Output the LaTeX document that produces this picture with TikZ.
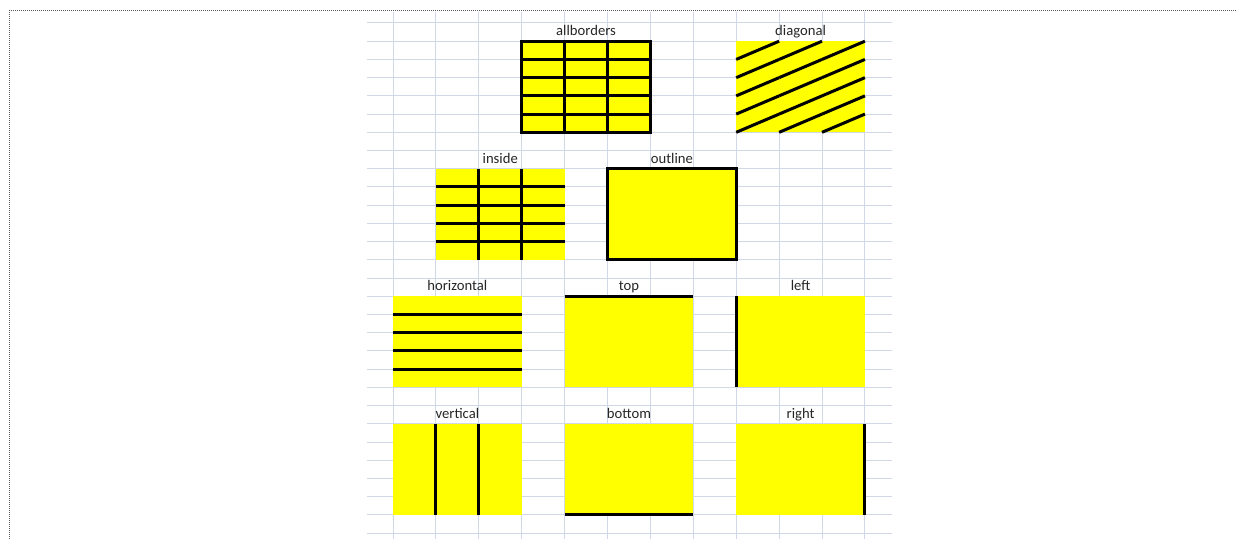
\documentclass[tikz,border=0pt]{standalone}
\usepackage{fontspec}
\setmainfont{Carlito}
\definecolor{gridblue}{HTML}{D0D7E5}
\definecolor{cellyellow}{HTML}{FFFF00}

\begin{document}
\begin{tikzpicture}[x=32.175pt,y=-13.665pt]
  \tikzstyle{cellbox}=[rectangle,fill=cellyellow,inner sep=0pt,outer sep=0pt,minimum width=96.525pt,minimum height=68.325pt]
  \tikzstyle{heading}=[inner sep=0pt,anchor=base,text=black!85,font=\fontsize{11}{13}\selectfont]
  \tikzstyle{border}=[line width=2.25pt,black]
  \tikzstyle{gridline}=[gridblue,line width=0.75pt]
  \useasboundingbox (-9.161,-1.262) rectangle (19.650,28.321);
  % frame of the screenshot
  \draw[black!65,dash pattern=on 0.75pt off 0.75pt,line width=0.75pt] (-8.928,28.321) -- (-8.928,-0.713) -- (19.650,-0.713);
  % sheet grid
  \foreach \r in {0,...,28} \draw[gridline] (-0.606,\r) -- (11.63,\r);
  \foreach \c in {0,...,11} \draw[gridline] (\c,-0.587) -- (\c,28.321);
  % coloured ranges
  \node[cellbox] (B_allborders) at (4.5,3.5)  {};
  \node[cellbox] (B_diagonal)   at (9.5,3.5)  {};
  \node[cellbox] (B_inside)     at (2.5,10.5) {};
  \node[cellbox] (B_outline)    at (6.5,10.5) {};
  \node[cellbox] (B_horizontal) at (1.5,17.5) {};
  \node[cellbox] (B_top)        at (5.5,17.5) {};
  \node[cellbox] (B_left)       at (9.5,17.5) {};
  \node[cellbox] (B_vertical)   at (1.5,24.5) {};
  \node[cellbox] (B_bottom)     at (5.5,24.5) {};
  \node[cellbox] (B_right)      at (9.5,24.5) {};
  % headings
  \node[heading] (H_allborders) at (4.5,0.7)  {allborders};
  \node[heading] (H_diagonal)   at (9.5,0.7)  {diagonal};
  \node[heading] (H_inside)     at (2.5,7.7)  {inside};
  \node[heading] (H_outline)    at (6.5,7.7)  {outline};
  \node[heading] (H_horizontal) at (1.5,14.7) {horizontal};
  \node[heading] (H_top)        at (5.5,14.7) {top};
  \node[heading] (H_left)       at (9.5,14.7) {left};
  \node[heading] (H_vertical)   at (1.5,21.7) {vertical};
  \node[heading] (H_bottom)     at (5.5,21.7) {bottom};
  \node[heading] (H_right)      at (9.5,21.7) {right};
  % borders
  \foreach \r in {2,...,5} \draw[border] (3,\r) -- (6,\r);
  \foreach \c in {4,5} \draw[border] (\c,1) -- (\c,6);
  \draw[border] (B_allborders.north west) rectangle (B_allborders.south east);
  \foreach \c in {8,9,10} \foreach \r in {1,...,5} \draw[border] (\c,\r+1) -- (\c+1,\r);
  \foreach \r in {9,...,12} \draw[border] (1,\r) -- (4,\r);
  \foreach \c in {2,3} \draw[border] (\c,8) -- (\c,13);
  \draw[border] (B_outline.north west) rectangle (B_outline.south east);
  \foreach \r in {16,...,19} \draw[border] (0,\r) -- (3,\r);
  \draw[border] (B_top.north west) -- (B_top.north east);
  \draw[border] (B_left.north west) -- (B_left.south west);
  \foreach \c in {1,2} \draw[border] (\c,22) -- (\c,27);
  \draw[border] (B_bottom.south west) -- (B_bottom.south east);
  \draw[border] (B_right.north east) -- (B_right.south east);
\end{tikzpicture}
\end{document}
